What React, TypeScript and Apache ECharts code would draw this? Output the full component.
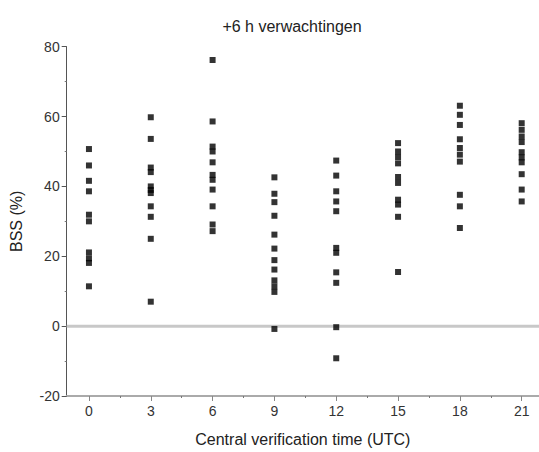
import React, { useEffect, useRef } from "react";
import * as echarts from "echarts";

const TITLE = "+6 h verwachtingen";
const X_NAME = "Central verification time (UTC)";
const Y_NAME = "BSS (%)";
const X_TICKS = [0, 3, 6, 9, 12, 15, 18, 21];
const X_MINOR = [1.5, 4.5, 7.5, 10.5, 13.5, 16.5, 19.5];
const X_MIN = -1.08;
const X_MAX = 21.84;
const ZERO_LINE = 0;

const bss00 = [50.7, 46.0, 41.6, 38.6, 31.9, 30.0, 21.1, 19.4, 18.1, 11.4];
const bss03 = [59.8, 53.6, 45.4, 44.1, 40.0, 39.0, 38.1, 34.3, 31.3, 25.0, 7.0];
const bss06 = [76.2, 58.6, 51.4, 50.0, 46.9, 43.3, 41.9, 39.1, 34.3, 29.1, 27.2];
const bss09 = [42.6, 37.9, 35.5, 31.6, 26.2, 22.2, 18.9, 16.2, 13.1, 11.4, 9.8, -0.8];
const bss12 = [47.4, 43.1, 38.6, 35.7, 32.9, 22.4, 21.0, 15.4, 12.4, -0.3, -9.2];
const bss15 = [52.4, 50.0, 48.4, 46.6, 42.7, 41.0, 36.2, 34.8, 31.3, 15.5];
const bss18 = [63.1, 60.5, 57.6, 53.5, 51.0, 49.1, 47.1, 37.6, 34.3, 28.1];
const bss21 = [58.1, 56.2, 54.3, 52.7, 49.8, 48.3, 46.9, 43.5, 39.1, 35.7];

const columns = [bss00, bss03, bss06, bss09, bss12, bss15, bss18, bss21];

export default function App() {
  const ref = useRef<HTMLDivElement>(null);
  useEffect(() => {
    if (!ref.current) return;
    const chart = echarts.init(ref.current, null, { renderer: "svg" });
    const data: number[][] = [];
    columns.forEach((col, i) => {
      col.forEach((v) => data.push([X_TICKS[i], v]));
    });
    const font = "'Liberation Sans', Arial, sans-serif";
    chart.setOption({
      animation: false,
      backgroundColor: "#fff",
      graphic: [
        {
          type: "text",
          x: 292,
          y: 26,
          style: {
            text: TITLE,
            fill: "#222",
            fontSize: 16,
            fontFamily: font,
            textAlign: "center",
            textVerticalAlign: "middle",
          },
        },
      ],
      grid: { left: 66.7, top: 46.7, right: 0, bottom: 55.3, containLabel: false },
      xAxis: [
        {
          type: "value",
          min: X_MIN,
          max: X_MAX,
          name: X_NAME,
          nameLocation: "middle",
          nameGap: 35,
          nameTextStyle: { color: "#222", fontSize: 16, fontFamily: font },
          axisLine: { show: true, onZero: false, lineStyle: { color: "#aaa", width: 2 } },
          axisTick: { show: true, customValues: X_TICKS, length: 5, lineStyle: { color: "#888" } },
          axisLabel: { customValues: X_TICKS, color: "#333", fontSize: 14, fontFamily: font, margin: 8 },
          splitLine: { show: false },
        },
        {
          type: "value",
          min: X_MIN,
          max: X_MAX,
          position: "bottom",
          offset: 0,
          axisLine: { show: false, onZero: false },
          axisTick: { show: true, customValues: X_MINOR, length: 2, lineStyle: { color: "#777" } },
          axisLabel: { show: false },
          splitLine: { show: false },
        },
      ],
      yAxis: {
        type: "value",
        min: -20,
        max: 80,
        interval: 20,
        name: Y_NAME,
        nameLocation: "middle",
        nameGap: 42,
        nameTextStyle: { color: "#222", fontSize: 16, fontFamily: font },
        axisLine: { show: true, onZero: false, lineStyle: { color: "#555", width: 1 } },
        axisTick: { show: true, length: 5, lineStyle: { color: "#555" } },
        minorTick: { show: true, splitNumber: 2, length: 2, lineStyle: { color: "#777" } },
        axisLabel: { color: "#333", fontSize: 14, fontFamily: font, margin: 7 },
        splitLine: { show: false },
      },
      series: [
        {
          type: "line",
          xAxisIndex: 0,
          data: [
            [X_MIN, ZERO_LINE],
            [X_MAX, ZERO_LINE],
          ],
          symbol: "none",
          silent: true,
          lineStyle: { color: "#c8c8c8", width: 3 },
          z: 1,
        },
        {
          type: "scatter",
          xAxisIndex: 0,
          symbol: "rect",
          symbolSize: [6, 6],
          itemStyle: { color: "#000" },
          data,
          z: 5,
        },
      ],
    });
    return () => chart.dispose();
  }, []);
  return (
    <div
      ref={ref}
      style={{ position: "fixed", left: 0, top: 0, width: 539, height: 452, background: "#fff" }}
    />
  );
}
